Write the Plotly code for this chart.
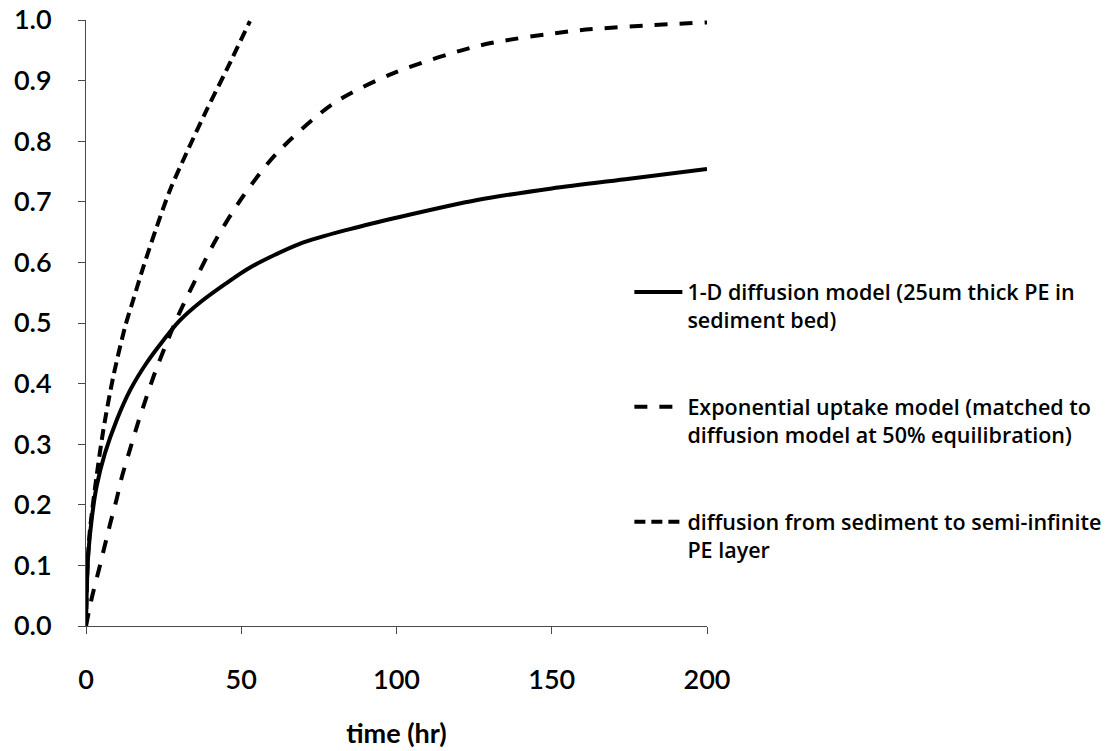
import plotly.graph_objects as go

# 1-D diffusion model (25um thick PE in sediment bed)
t_diffusion = [0, 0.2, 0.75, 1.8, 3.4, 6.1, 9.9, 14.3, 19.5, 25, 30, 37, 45, 53,
               69, 85, 101, 126, 150, 175, 200]
f_diffusion = [0, 0.05, 0.12, 0.175, 0.23, 0.285, 0.34, 0.39, 0.434, 0.472, 0.503,
               0.535, 0.565, 0.592, 0.631, 0.655, 0.675, 0.703, 0.722, 0.738, 0.754]

# Exponential uptake model (matched at 50% equilibration)
t_expo = [0, 1.8, 4.5, 7.7, 9.9, 11.5, 14.2, 16.8, 19.5, 22.2, 25.4, 29.5, 35.6,
          42.1, 50.7, 61.4, 79.6, 98.9, 126.9, 159, 200]
f_expo = [0, 0.045, 0.10, 0.167, 0.21, 0.245, 0.292, 0.336, 0.378, 0.418, 0.46,
          0.51, 0.575, 0.64, 0.71, 0.78, 0.862, 0.912, 0.958, 0.983, 0.996]

# Diffusion from sediment into a semi-infinite PE layer
t_semi = [0, 0.5, 1.3, 3.4, 5.6, 8.8, 12.6, 15.2, 18.5, 22.8, 27.1, 32.4, 38.9, 45.3, 52.8]
f_semi = [0, 0.10, 0.16, 0.247, 0.324, 0.412, 0.494, 0.538, 0.593, 0.659, 0.720,
          0.781, 0.852, 0.918, 0.998]

x_ticks = [0, 50, 100, 150, 200]
y_ticks = [round(0.1 * i, 1) for i in range(11)]

names = [
    "1-D diffusion model (25um thick PE in<br>sediment bed)",
    "Exponential uptake model (matched to<br>diffusion model at 50% equilibration)",
    "diffusion from sediment to semi-infinite<br>PE layer",
]

FONT = "Lato"

fig = go.Figure()
fig.add_trace(go.Scatter(x=t_diffusion, y=f_diffusion, mode="lines", name=names[0],
                         legendgroup="a",
                         line=dict(color="black", width=4, shape="spline", smoothing=0.8)))
fig.add_trace(go.Scatter(x=t_expo, y=f_expo, mode="lines", name=names[1],
                         legendgroup="b",
                         line=dict(color="black", width=4, dash="13px,12px",
                                   shape="spline", smoothing=0.8)))
fig.add_trace(go.Scatter(x=t_semi, y=f_semi, mode="lines", name=names[2],
                         legendgroup="c",
                         line=dict(color="black", width=4, dash="11px,6px",
                                   shape="spline", smoothing=0.8)))

axis_common = dict(
    showline=True, linecolor="#4a4a4a", linewidth=1,
    ticks="outside", ticklen=7, tickwidth=1, tickcolor="#4a4a4a",
    showgrid=False, zeroline=False,
    tickfont=dict(family=FONT, size=27, color="black", weight=600),
)

fig.update_xaxes(range=[0, 200], tickvals=x_ticks, ticklabelstandoff=23,
                 title=dict(text="time (hr)", standoff=29,
                            font=dict(family=FONT, size=27, color="black", weight="bold")),
                 **axis_common)
fig.update_yaxes(range=[0, 1], tickvals=y_ticks, tickformat=".1f",
                 ticklabelstandoff=21, **axis_common)

fig.update_layout(
    width=1111, height=751, autosize=False,
    margin=dict(l=86, r=404, t=20, b=125, autoexpand=False),
    paper_bgcolor="white", plot_bgcolor="white",
    showlegend=True,
    legend=dict(
        x=0.875, xanchor="left", y=0.585, yanchor="top",
        font=dict(family="Open Sans", size=21.5, color="black", weight=600),
        valign="top", tracegroupgap=56, traceorder="grouped",
        itemwidth=48, bgcolor="rgba(0,0,0,0)",
    ),
)

fig.write_html("out.html")
